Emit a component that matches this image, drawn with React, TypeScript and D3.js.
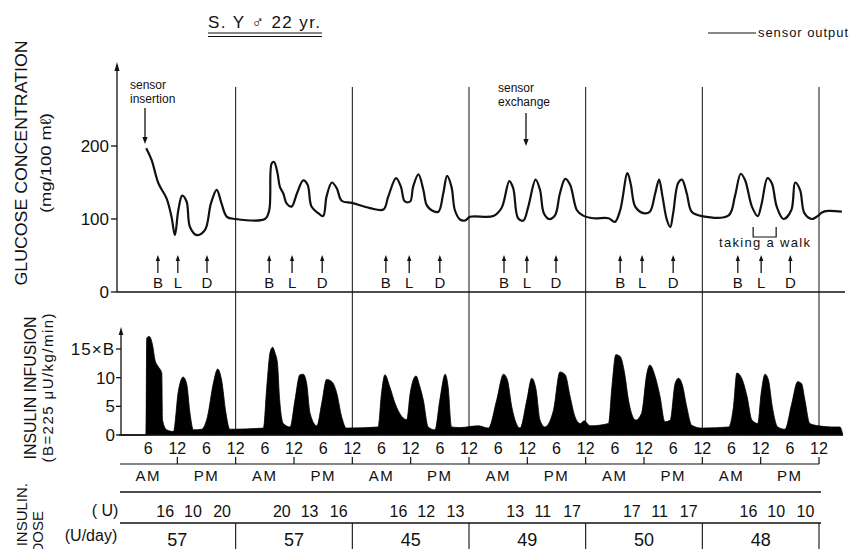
import React from "react";
import * as d3 from "d3";

// glucose sensor output: [hour from start, mg/100ml]
const glucose: [number, number][] = [
  [5.6, 197], [6.7, 181], [8.1, 149], [9.8, 128], [10.8, 103], [11.5, 78], [12.2, 112], [13.0, 132],
  [13.9, 124], [14.6, 89], [16.0, 78], [17.7, 85], [18.9, 121], [20.1, 140], [21.1, 121], [22.2, 103],
  [23.9, 100], [30.0, 100], [30.9, 112], [31.4, 176], [31.9, 178], [32.6, 163], [33.1, 144], [33.8, 135],
  [34.5, 121], [35.5, 117], [36.6, 135], [37.9, 153], [38.8, 147], [39.6, 117], [41.0, 108], [42.0, 104],
  [42.7, 131], [43.8, 150], [44.8, 142], [45.8, 125], [47.9, 122], [51.6, 115], [54.4, 113], [55.4, 131],
  [57.0, 156], [58.0, 144], [58.8, 124], [59.9, 124], [60.5, 144], [61.6, 161], [62.6, 140], [63.3, 119],
  [64.3, 112], [65.7, 110], [66.7, 135], [67.5, 159], [68.4, 144], [69.1, 112], [70.2, 99], [71.2, 98],
  [72.2, 103], [77.0, 104], [78.7, 115], [80.3, 152], [81.1, 142], [82.1, 101], [83.2, 98], [84.2, 117],
  [85.7, 154], [86.6, 140], [87.4, 108], [88.5, 100], [89.7, 105], [90.7, 135], [91.8, 155], [92.8, 147],
  [94.2, 112], [95.4, 105], [97.6, 101], [100.7, 101], [102.0, 96], [103.1, 112], [104.6, 163], [105.3, 147],
  [106.2, 117], [107.9, 108], [109.2, 110], [110.3, 135], [111.1, 154], [111.8, 131], [112.7, 99], [113.4, 89],
  [114.0, 108], [115.0, 149], [115.8, 154], [116.8, 135], [117.8, 110], [119.9, 104], [125.4, 105], [126.7, 131],
  [127.9, 162], [128.8, 153], [130.2, 117], [131.4, 104], [132.2, 121], [133.4, 156], [134.3, 149], [135.3, 117],
  [136.7, 100], [138.3, 112], [139.1, 150], [140.1, 140], [141.0, 108], [142.5, 100], [143.9, 105], [144.6, 109],
  [145.9, 111], [148.7, 110],
];

// insulin infusion: [hour from start, multiples of B]
const insulin: [number, number][] = [
  [0, 0], [5.55, 0], [5.7, 16.9], [6.2, 17.2], [6.9, 15.7], [7.4, 13.1], [8.1, 11.9], [8.8, 10.8],
  [8.95, 2.6], [9.8, 0.9], [11.2, 0.6], [12.2, 7.6], [13.2, 10.1], [13.9, 9.0], [14.6, 3.8], [15.3, 0.9],
  [17.0, 1.0], [18.2, 3.2], [19.4, 9.0], [20.3, 11.5], [21.1, 9.6], [22.0, 3.8], [22.8, 1.0], [29.7, 1.2],
  [30.4, 8.4], [31.1, 14.5], [31.6, 15.3], [32.1, 14.3], [32.6, 12.5], [33.0, 6.7], [33.8, 2.0], [35.2, 1.4],
  [36.2, 6.1], [37.2, 10.5], [37.9, 10.6], [38.6, 9.0], [39.3, 3.8], [40.7, 1.6], [41.7, 5.5], [42.7, 9.7],
  [43.8, 9.3], [44.8, 7.3], [45.8, 3.2], [46.8, 1.2], [53.3, 1.4], [54.0, 7.3], [54.7, 10.5], [55.7, 8.4],
  [56.8, 5.5], [58.2, 3.2], [59.2, 2.7], [59.9, 7.3], [61.1, 10.3], [61.9, 8.4], [62.6, 6.1], [63.6, 1.4],
  [65.0, 0.9], [66.0, 6.1], [67.1, 10.6], [67.7, 8.4], [68.4, 1.4], [70.2, 1.3], [73.9, 1.6], [76.0, 1.2],
  [77.7, 6.1], [79.1, 10.6], [79.9, 9.6], [80.8, 4.9], [82.5, 1.2], [83.9, 6.1], [84.9, 9.9], [85.8, 7.9],
  [86.6, 2.6], [87.6, 1.4], [89.4, 4.4], [90.7, 11.0], [91.8, 10.5], [92.8, 6.7], [93.8, 3.2], [94.9, 2.0],
  [95.7, 2.5], [96.9, 1.6], [100.7, 2.0], [101.4, 8.4], [102.2, 14.0], [103.1, 13.7], [104.0, 10.8], [104.8, 6.1],
  [106.3, 2.6], [107.5, 3.8], [108.6, 10.8], [109.2, 12.2], [110.3, 10.2], [111.3, 6.7], [112.3, 2.3], [113.4, 2.6],
  [114.4, 9.0], [115.1, 9.9], [115.9, 8.7], [116.8, 4.9], [117.8, 1.7], [119.9, 1.2], [125.4, 1.4], [126.4, 4.9],
  [127.1, 10.8], [128.1, 9.9], [129.2, 6.7], [130.2, 2.6], [131.4, 2.0], [132.1, 7.3], [132.9, 10.6], [133.6, 9.6],
  [134.4, 4.9], [135.5, 1.4], [137.0, 1.0], [138.4, 5.5], [139.6, 9.3], [140.4, 9.0], [141.1, 6.1], [142.1, 2.0],
  [143.9, 1.6], [146.6, 1.4], [148.3, 1.4], [148.9, 0],
];

// meal times (hour from start): breakfast, lunch, dinner for each day
const mealHours = [
  8.0, 12.1, 18.1, 30.9, 35.6, 41.8, 54.9, 59.7, 66.0,
  79.2, 83.9, 89.9, 103.1, 107.6, 114.0, 127.3, 132.1, 138.1,
];
const mealLabels = ["B", "L", "D"];

// insulin doses (U) per meal and per day
const doses = [
  [16, 10, 20], [20, 13, 16], [16, 12, 13], [13, 11, 17], [17, 11, 17], [16, 10, 10],
];
const dailyDose = [57, 57, 45, 49, 50, 48];
const doseHours = [9.5, 15.2, 21.2];

// axis ticks
const glucoseTicks = [0, 100, 200];
const insulinTicks = [0, 5, 10, 15];
const insulinTickLabels = ["0", "5", "10", "15\u00d7B"];
const timeTicks = d3.range(6, 145, 6);
const dayBounds = [24, 48, 72, 96, 120, 144];

const FONT = "'Liberation Sans', Arial, sans-serif";
const INK = "#111";

//scales
const x = d3.scaleLinear().domain([0, 144]).range([119, 819]);
const yG = d3.scaleLinear().domain([0, 200]).range([292, 146]);
const yI = d3.scaleLinear().domain([0, 15]).range([435, 349]);

// vertical arrow, tip at y2
const Arrow = ({ x0, y1, y2, w = 2.6, h = 7 }: { x0: number; y1: number; y2: number; w?: number; h?: number }) => {
  const dir = y2 < y1 ? 1 : -1;
  return (
    <g>
      <line x1={x0} x2={x0} y1={y1} y2={y2 + dir * h * 0.6} stroke={INK} strokeWidth={1.3} />
      <path d={`M${x0},${y2} L${x0 - w},${y2 + dir * h} L${x0 + w},${y2 + dir * h} Z`} fill={INK} />
    </g>
  );
};

const App = () => {
  const glucoseLine = d3
    .line<[number, number]>()
    .x((d) => x(d[0]))
    .y((d) => yG(d[1]))
    .curve(d3.curveCatmullRom.alpha(0.5));

  const insulinArea = d3
    .area<[number, number]>()
    .x((d) => x(d[0]))
    .y0(yI(0))
    .y1((d) => yI(d[1]))
    .curve(d3.curveMonotoneX);

  const txt = { fontFamily: FONT, fill: INK } as const;

  return (
    <svg width={861} height={549} style={{ position: "absolute", left: 0, top: 0, background: "#fff" }}>
      {/* title */}
      <text x={264} y={28} textAnchor="middle" fontSize={17} textLength={112} {...txt}>
        S. Y  {"\u2642"} 22 yr.
      </text>
      <line x1={208} x2={322} y1={33} y2={33} stroke={INK} strokeWidth={1.2} />
      <line x1={208} x2={322} y1={36.5} y2={36.5} stroke={INK} strokeWidth={1.2} />

      {/* legend */}
      <line x1={708} x2={756} y1={33} y2={33} stroke={INK} strokeWidth={1} />
      <text x={758} y={37} fontSize={13} textLength={90} {...txt}>sensor output</text>

      {/* left titles */}
      <text transform="translate(27,163) rotate(-90)" textAnchor="middle" fontSize={17} textLength={245} lengthAdjust="spacingAndGlyphs" {...txt}>
        GLUCOSE CONCENTRATION
      </text>
      <text transform="translate(51,163) rotate(-90)" textAnchor="middle" fontSize={15} textLength={100} lengthAdjust="spacingAndGlyphs" {...txt}>
        (mg/100 m{"\u2113"})
      </text>
      <text transform="translate(36,388) rotate(-90)" textAnchor="middle" fontSize={17} textLength={143} lengthAdjust="spacingAndGlyphs" {...txt}>
        INSULIN INFUSION
      </text>
      <text transform="translate(53,388) rotate(-90)" textAnchor="middle" fontSize={15} textLength={149} {...txt}>
        (B=225 {"\u03bc"}U/kg/min)
      </text>
      <text transform="translate(27,483) rotate(-90)" textAnchor="end" fontSize={15} {...txt}>
        INSULIN.
      </text>
      <text transform="translate(43,511) rotate(-90)" textAnchor="end" fontSize={15} {...txt}>
        DOSE
      </text>

      {/* day separators */}
      {dayBounds.map((d) => (
        <line key={d} x1={x(d)} x2={x(d)} y1={87} y2={yI(0)} stroke={INK} strokeWidth={1} />
      ))}

      {/* glucose axes */}
      <line x1={117} x2={845} y1={yG(0)} y2={yG(0)} stroke={INK} strokeWidth={1.5} />
      <Arrow x0={117} y1={yG(0)} y2={62} w={2.5} h={9} />
      {glucoseTicks.map((t) => (
        <g key={t}>
          <line x1={111} x2={117} y1={yG(t)} y2={yG(t)} stroke={INK} strokeWidth={1.3} />
          <text x={109} y={yG(t) + 6} textAnchor="end" fontSize={17} {...txt}>{t}</text>
        </g>
      ))}

      {/* glucose curve */}
      <path d={glucoseLine(glucose) ?? ""} fill="none" stroke={INK} strokeWidth={2.2} strokeLinejoin="round" />

      {/* annotations */}
      <text x={130} y={89} fontSize={12} {...txt}>sensor</text>
      <text x={130} y={103} fontSize={12} {...txt}>insertion</text>
      <Arrow x0={145} y1={108} y2={144} />
      <text x={498} y={92} fontSize={12} {...txt}>sensor</text>
      <text x={498} y={106} fontSize={12} {...txt}>exchange</text>
      <Arrow x0={526} y1={113} y2={146} />
      <path d={`M${x(132.1) - 8},227 V237 H${x(132.1) + 15} V227`} fill="none" stroke={INK} strokeWidth={1.2} />
      <text x={719} y={247} fontSize={13} textLength={91} {...txt}>taking a walk</text>

      {/* meals */}
      {mealHours.map((h, i) => (
        <g key={i}>
          <Arrow x0={x(h)} y1={273} y2={255} w={2.2} h={6} />
          <text x={x(h)} y={288} textAnchor="middle" fontSize={15} {...txt}>{mealLabels[i % 3]}</text>
        </g>
      ))}

      {/* insulin infusion */}
      <path d={insulinArea(insulin) ?? ""} fill="#000" stroke="#000" strokeWidth={0.8} />
      <line x1={121} x2={843} y1={yI(0)} y2={yI(0)} stroke={INK} strokeWidth={1.3} />
      <Arrow x0={121} y1={yI(0)} y2={327} w={2.3} h={8} />
      {insulinTicks.map((t, i) => (
        <g key={t}>
          <line x1={116} x2={121} y1={yI(t)} y2={yI(t)} stroke={INK} strokeWidth={1.3} />
          <text x={115} y={yI(t) + 6} textAnchor="end" fontSize={17} letterSpacing={i === 3 ? 1 : 0} {...txt}>
            {insulinTickLabels[i]}
          </text>
        </g>
      ))}

      {/* time axis */}
      {timeTicks.map((t) => (
        <text key={t} x={x(t)} y={454} textAnchor="middle" fontSize={16} {...txt}>
          {t % 12 === 0 ? "12" : "6"}
        </text>
      ))}
      <line x1={120} x2={x(144)} y1={464} y2={464} stroke={INK} strokeWidth={1.2} />
      {d3.range(12, 145, 12).map((t) => (
        <line key={t} x1={x(t)} x2={x(t)} y1={457} y2={464} stroke={INK} strokeWidth={1.2} />
      ))}
      {d3.range(6, 145, 12).map((t, i) => (
        <text key={t} x={x(t)} y={481} textAnchor="middle" fontSize={15} letterSpacing={1.5} {...txt}>
          {i % 2 === 0 ? "AM" : "PM"}
        </text>
      ))}
      <line x1={120} x2={821} y1={492} y2={492} stroke={INK} strokeWidth={1.4} />

      {/* insulin dose table */}
      <text x={105} y={516} textAnchor="middle" fontSize={16} {...txt}>( U)</text>
      <text x={91} y={541} textAnchor="middle" fontSize={16} {...txt}>(U/day)</text>
      {doses.map((row, d) =>
        row.map((v, j) => (
          <text key={`${d}-${j}`} x={x(d * 24 + doseHours[j])} y={517} textAnchor="middle" fontSize={16} {...txt}>
            {v}
          </text>
        ))
      )}
      <line x1={120} x2={821} y1={523} y2={523} stroke={INK} strokeWidth={1.3} />
      {dayBounds.map((d) => (
        <line key={d} x1={x(d)} x2={x(d)} y1={523} y2={549} stroke={INK} strokeWidth={1.1} />
      ))}
      {dailyDose.map((v, d) => (
        <text key={d} x={x(d * 24 + 12)} y={546} textAnchor="middle" fontSize={18} {...txt}>
          {v}
        </text>
      ))}
    </svg>
  );
};

export default App;
